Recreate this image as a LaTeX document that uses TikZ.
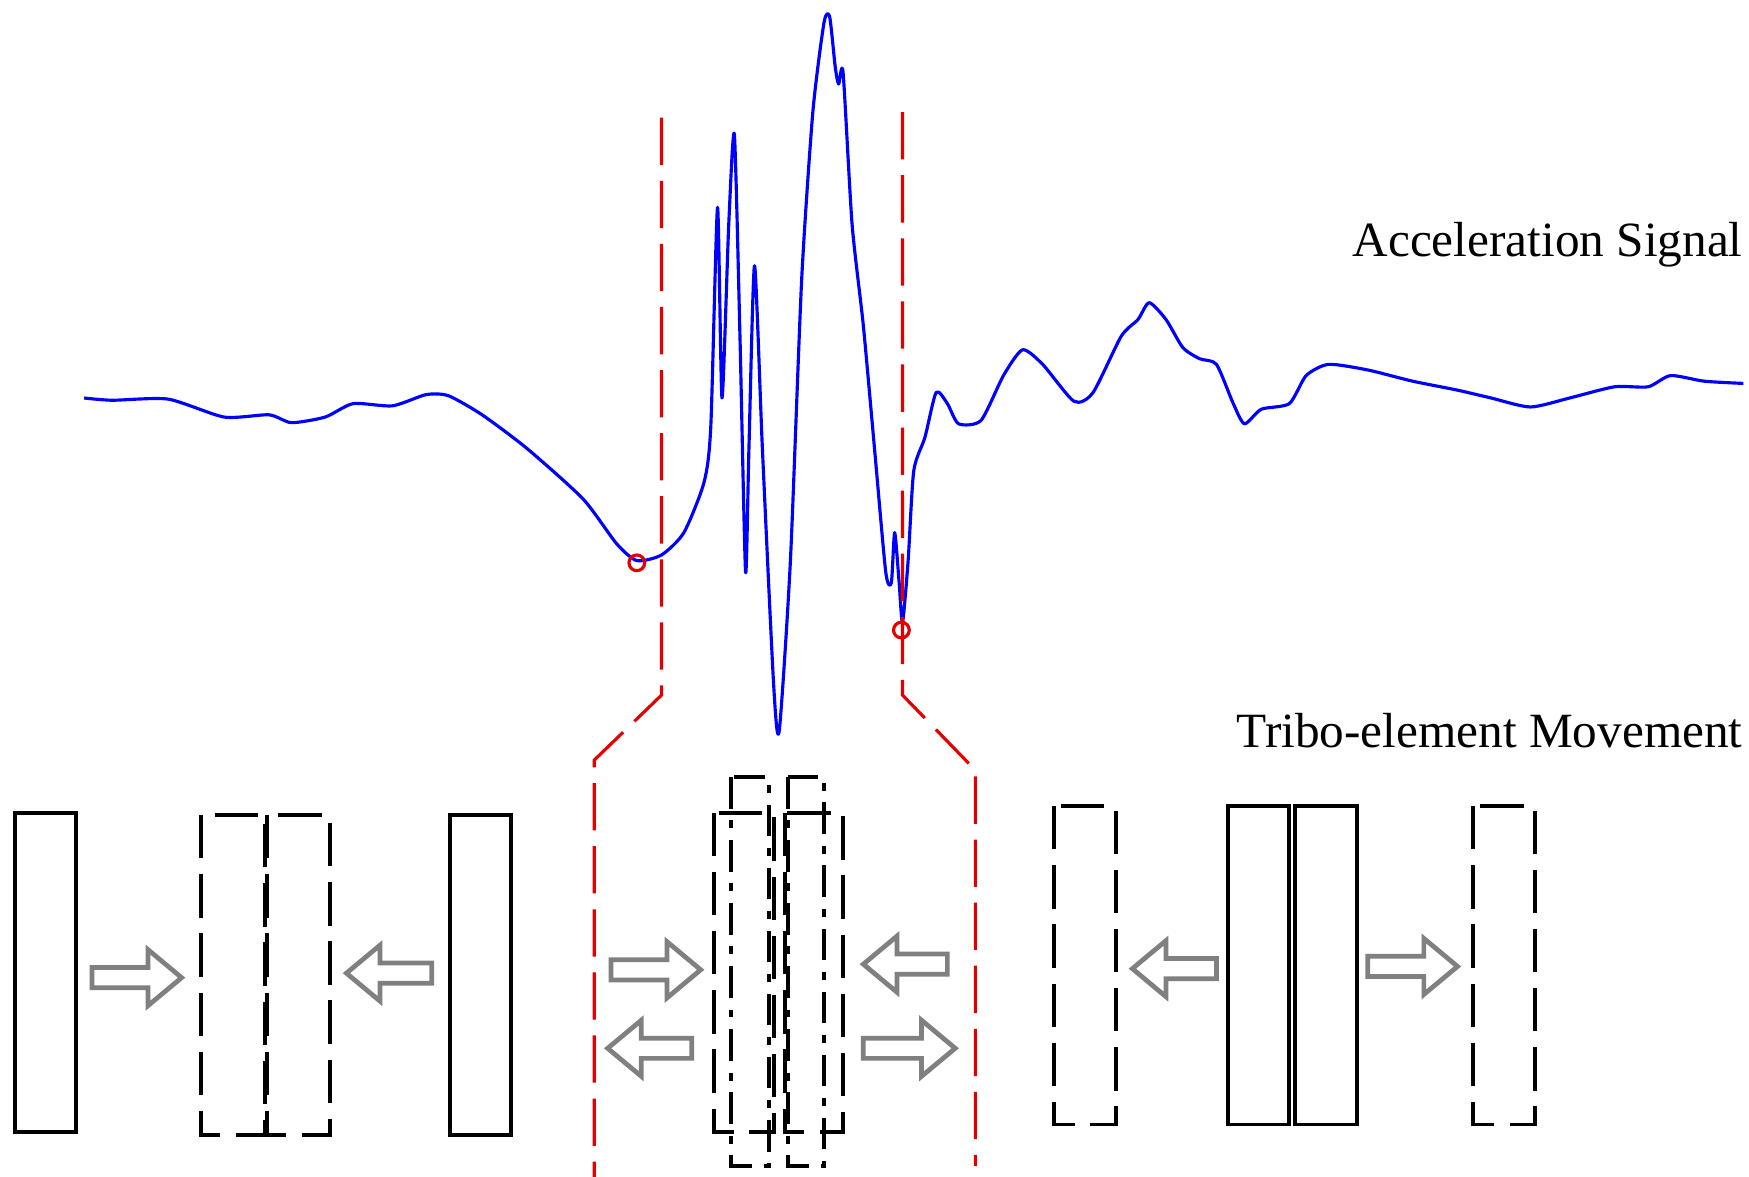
\documentclass[tikz,border=0pt]{standalone}
\usepackage{fontspec}
\setmainfont{Liberation Serif}
\begin{document}
\begin{tikzpicture}[x=0.01cm,y=-0.01cm,
  sig/.style={blue,line width=0.8pt,line join=round},
  red/.style={red!90!black,line width=0.8pt,dash pattern=on 12pt off 4pt},
  sol/.style={black,line width=1pt},
  dsh/.style={black,line width=1pt,dash pattern=on 11pt off 4pt},
  dd/.style={black,line width=1pt,dash pattern=on 8pt off 3pt on 2pt off 3pt},
  arr/.style={gray,line width=1.2pt,fill=white,line join=miter},
  lbl/.style={font=\fontsize{12.5pt}{14pt}\selectfont,anchor=east,inner sep=0pt}]
\useasboundingbox (0,0) rectangle (1560,1049);
\newcommand\rarrow[3]{\draw[arr] (#1,#3-9) -- (#2-30,#3-9) -- (#2-30,#3-25) -- (#2,#3) -- (#2-30,#3+25) -- (#2-30,#3+9) -- (#1,#3+9) -- cycle;}
\newcommand\larrow[3]{\draw[arr] (#2,#3-9) -- (#1+30,#3-9) -- (#1+30,#3-25) -- (#1,#3) -- (#1+30,#3+25) -- (#1+30,#3+9) -- (#2,#3+9) -- cycle;}
\draw[sig] plot[smooth,tension=0.4] coordinates {(75,355) (100,357) (150,356) (200,372) (240,370) (260,377) (290,372) (315,360) (350,362) (380,352) (400,353) (430,370) (470,400) (520,445) (550,485) (568,500) (590,495) (610,475) (628,430) (634,380) (640,185) (644,355) (650,200) (655,120) (660,300) (665,510) (668,400) (673,237) (680,400) (690,610) (695,652) (705,500) (715,250) (725,100) (735,20) (740,15) (745,60) (748,75) (752,65) (760,200) (770,290) (780,400) (790,510) (795,520) (798,475) (802,520) (805,555) (810,500) (815,420) (825,390) (835,350) (845,360) (855,378) (875,375) (895,335) (912,312) (930,325) (958,358) (975,350) (1000,300) (1015,285) (1025,270) (1040,285) (1055,310) (1070,320) (1085,325) (1100,360) (1110,378) (1125,365) (1150,360) (1165,335) (1185,325) (1220,330) (1260,340) (1300,348) (1330,355) (1365,363) (1400,355) (1440,345) (1470,345) (1490,335) (1520,340) (1555,342)};
\draw[red] (590,105) -- (590,620) -- (530,678) -- (530,1050);
\draw[red] (805,100) -- (805,620) -- (870,687) -- (870,1040);
\draw[red,solid,line width=0.8pt] (568,502) circle (7) (804,562) circle (7);
\node[lbl] (acc) at (1555,218) {Acceleration Signal};
\node[lbl] (tri) at (1555,652) {Tribo-element Movement};
% left group
\draw[sol] (13,725) rectangle (68,1010);
\draw[dsh] (179,727) rectangle (236,1012);
\draw[dsh] (238,727) rectangle (294,1012);
\draw[sol] (401,727) rectangle (456,1012);
\rarrow{82}{162}{872}
\larrow{309}{385}{868}
% middle group
\draw[dsh] (637,725) rectangle (690,1010);
\draw[dsh] (700,725) rectangle (752,1010);
\draw[dd] (652,693) rectangle (686,1040);
\draw[dd] (703,693) rectangle (735,1040);
\rarrow{545}{625}{865}
\larrow{770}{845}{860}
\larrow{542}{617}{935}
\rarrow{770}{852}{935}
% right group
\draw[dsh] (940,719) rectangle (995,1003);
\draw[sol] (1095,719) rectangle (1150,1003);
\draw[sol] (1155,719) rectangle (1210,1003);
\draw[dsh] (1314,719) rectangle (1369,1003);
\larrow{1010}{1085}{864}
\rarrow{1220}{1300}{862}
\end{tikzpicture}
\end{document}
